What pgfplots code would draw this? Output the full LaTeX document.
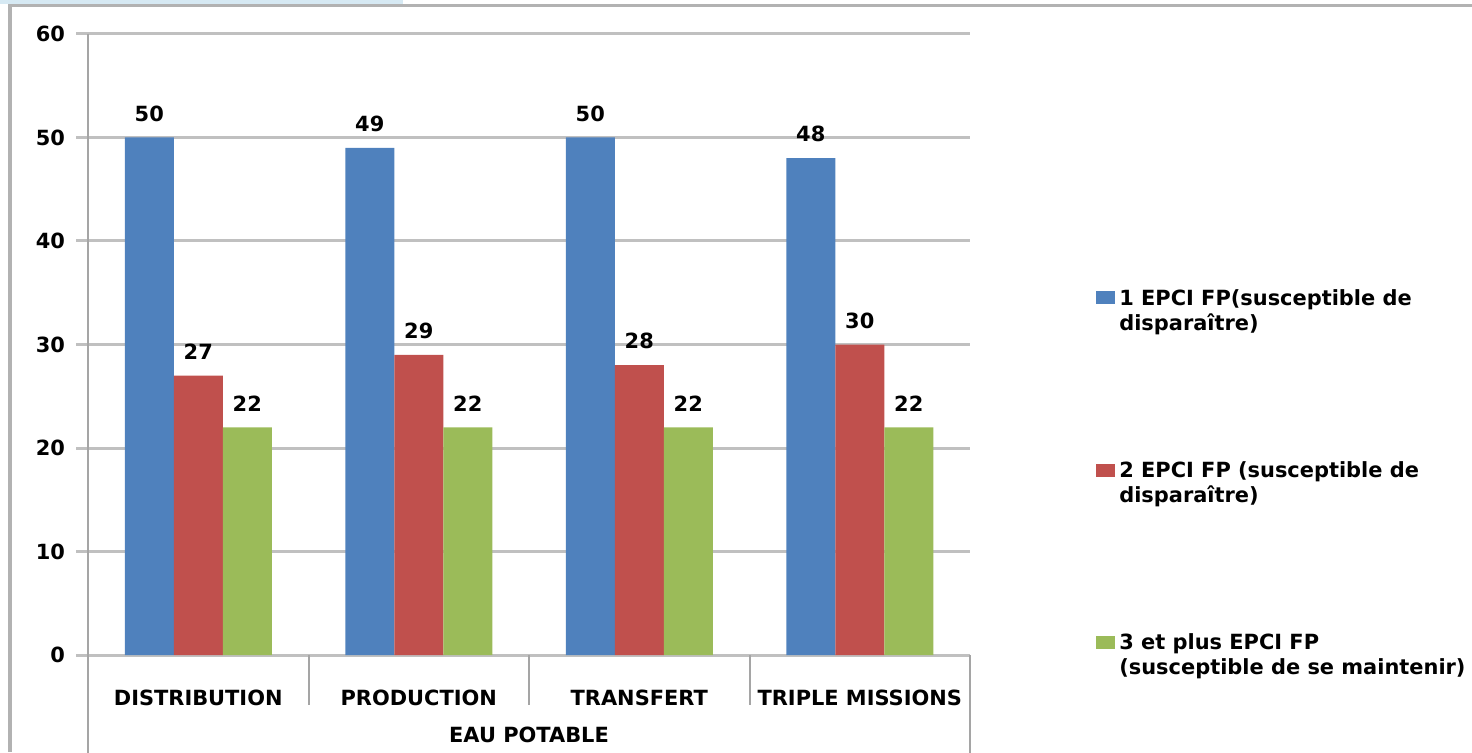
\documentclass[border=0pt]{standalone}
\usepackage{fontspec}
\setmainfont{DejaVu Sans}
\usepackage{pgfplots}
\pgfplotsset{compat=1.18}

\definecolor{serBlue}{RGB}{79,129,189}
\definecolor{serRed}{RGB}{192,80,77}
\definecolor{serGreen}{RGB}{155,187,89}
\definecolor{gridGray}{RGB}{192,192,192}
\definecolor{axisGray}{RGB}{165,165,165}
\definecolor{frameGray}{RGB}{178,178,178}
\definecolor{stripBlue}{RGB}{214,233,243}

\newcommand{\chartfont}{\fontsize{10.5}{12.5}\selectfont\bfseries}

\begin{document}
\begin{tikzpicture}[x=1bp,y=1bp]
\useasboundingbox (0,0) rectangle (736,376);
% outer frame of the chart area
\fill[stripBlue] (0,373.8) rectangle (201.5,376);
\draw[frameGray, line width=1.6bp] (5,0) -- (5,373.2) -- (736,373.2);

\begin{axis}[
  at={(44bp,48.5bp)}, anchor=south west,
  scale only axis, width=441bp, height=310.5bp,
  xmin=-0.5, xmax=3.5, ymin=0, ymax=60,
  clip=false,
  ybar=0pt, bar width=24.5bp,
  axis x line*=bottom, axis y line*=left,
  x axis line style={-, line width=1.5bp, draw=gridGray},
  y axis line style={-, line width=1bp, draw=axisGray},
  xtick={0,1,2,3},
  xticklabels={DISTRIBUTION, PRODUCTION, TRANSFERT, TRIPLE MISSIONS},
  major x tick style={draw=none},
  xticklabel style={font=\chartfont, yshift=-8bp},
  ytick={0,10,...,60},
  ymajorgrids,
  grid style={line width=1.5bp, draw=gridGray},
  tick align=outside,
  major tick length=6bp,
  major y tick style={line width=1.5bp, draw=gridGray},
  yticklabel style={font=\chartfont, xshift=-2bp},
  /pgf/number format/assume math mode=true,
  nodes near coords,
  every node near coord/.append style={font=\chartfont, yshift=4.5bp},
  legend style={
    at={(axis description cs:1.136,0.605)}, anchor=north west,
    draw=none, fill=none, font=\chartfont,
    row sep=72bp,
    nodes={anchor=base west},
  },
  legend image code/.code={\fill[#1] (0bp,0.5bp) rectangle (9.5bp,7bp);},
]
\addplot[fill=serBlue, draw=none] coordinates {(0,50) (1,49) (2,50) (3,48)};
\addlegendentry{\begin{tabular}[t]{@{}l@{}}1 EPCI FP(susceptible de\\disparaître)\end{tabular}}
\addplot[fill=serRed, draw=none] coordinates {(0,27) (1,29) (2,28) (3,30)};
\addlegendentry{\begin{tabular}[t]{@{}l@{}}2 EPCI FP (susceptible de\\disparaître)\end{tabular}}
\addplot[fill=serGreen, draw=none] coordinates {(0,22) (1,22) (2,22) (3,22)};
\addlegendentry{\begin{tabular}[t]{@{}l@{}}3 et plus EPCI FP\\(susceptible de se maintenir)\end{tabular}}

% category separators below the axis
\draw[axisGray, line width=1bp] (axis cs:0.5,0) -- ++(0pt,-25bp);
\draw[axisGray, line width=1bp] (axis cs:1.5,0) -- ++(0pt,-25bp);
\draw[axisGray, line width=1bp] (axis cs:2.5,0) -- ++(0pt,-25bp);
\draw[axisGray, line width=1bp] (axis cs:-0.5,0) -- ++(0pt,-49bp);
\draw[axisGray, line width=1bp] (axis cs:3.5,0) -- ++(0pt,-49bp);
\node[font=\chartfont] at (axis cs:1.5,0) [yshift=-40bp] {EAU POTABLE};
\end{axis}
\end{tikzpicture}
\end{document}
